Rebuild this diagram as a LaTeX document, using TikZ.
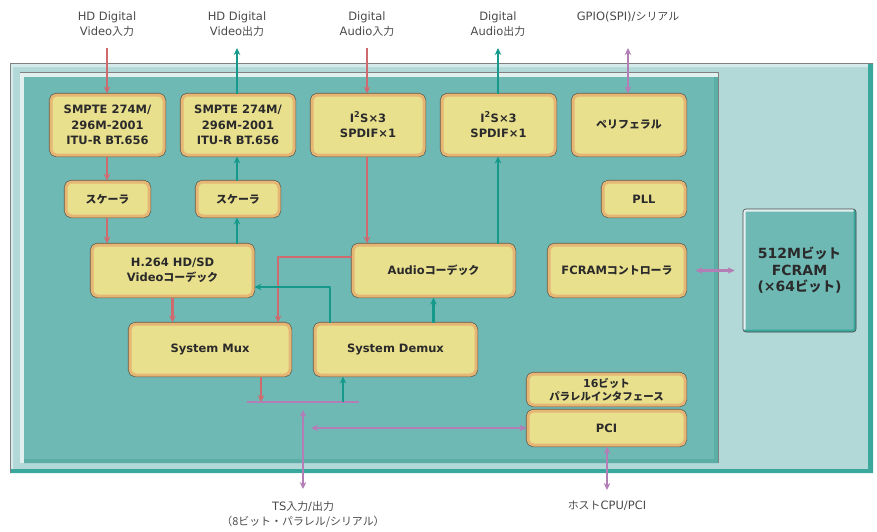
\documentclass[tikz,border=0pt]{standalone}
\usepackage{fontspec}
\setmainfont{DejaVu Sans}
\newfontfamily\jp[Scale=0.95]{Noto Sans CJK JP}
\usetikzlibrary{arrows.meta}
\definecolor{nenngoai}{HTML}{B3D8D8}
\definecolor{nenchip}{HTML}{6FB9B5}
\definecolor{vienchip}{HTML}{5AAEA6}
\definecolor{bienngoai}{HTML}{3AA89C}
\definecolor{vang}{HTML}{E9E08E}
\definecolor{cam}{HTML}{E6B674}
\definecolor{vien}{HTML}{5B5A4E}
\definecolor{dohong}{HTML}{CF6B6E}
\definecolor{xanhluc}{HTML}{14998A}
\definecolor{timnhat}{HTML}{B37DB5}
\definecolor{chu}{HTML}{2A2A2A}
\begin{document}
\begin{tikzpicture}[x=1pt, y=-1pt, line join=round, >={Stealth[length=7pt,width=6.5pt]},
	khoi/.style={rectangle, rounded corners=5.5pt, fill=vang, draw=cam, line width=3pt,
		preaction={draw=vien, line width=4.4pt}, align=center, inner sep=0pt, text=chu,
		font=\fontsize{11.5}{15.5}\selectfont\bfseries},
	nhan/.style={align=center, text=chu!85, font=\fontsize{11.5}{15}\selectfont},
	do/.style={draw=dohong, line width=2.4pt},
	xanh/.style={draw=xanhluc, line width=2.8pt},
	tim/.style={draw=timnhat, line width=2.2pt}]
	\useasboundingbox (0,0) rectangle (877,531);
	% bo mạch
	\fill[nenngoai] (10,63) rectangle (873,473);
	\fill[white!45!nenngoai] (10,63) rectangle (873,67) (10,63) rectangle (13,473);
	\fill[bienngoai] (10,469) rectangle (873,473) (868,63) rectangle (873,473);
	\draw[gray, line width=.8pt] (10,473)--(10,63)--(873,63);
	% chip
	\fill[white!60!nenngoai] (20,72) rectangle (718,463);
	\fill[nenchip] (24,77) rectangle (718,463);
	\fill[vienchip] (24,459) rectangle (718,463) (714,77) rectangle (718,463);
	\draw[gray, line width=.6pt] (20,72)--(718,72)--(718,463);
	% các khối
	\node[khoi, minimum width=113, minimum height=60] (smpteIn) at (107.5,125) {SMPTE 274M/\\296M-2001\\ITU-R BT.656};
	\node[khoi, minimum width=112, minimum height=60] (smpteOut) at (238,125) {SMPTE 274M/\\296M-2001\\ITU-R BT.656};
	\node[khoi, minimum width=112, minimum height=60] (i2sIn) at (368,125) {I\textsuperscript{2}S×3\\SPDIF×1};
	\node[khoi, minimum width=113, minimum height=60] (i2sOut) at (498.5,125) {I\textsuperscript{2}S×3\\SPDIF×1};
	\node[khoi, minimum width=112, minimum height=60] (peri) at (629,125) {\jp ペリフェラル};
	\node[khoi, minimum width=83, minimum height=34] (sclIn) at (107.5,199) {\jp スケーラ};
	\node[khoi, minimum width=82, minimum height=34] (sclOut) at (238,199) {\jp スケーラ};
	\node[khoi, minimum width=82, minimum height=34] (pll) at (644,199) {PLL};
	\node[khoi, minimum width=161, minimum height=51] (h264) at (172.5,270.5) {H.264 HD/SD\\Video{\jp コーデック}};
	\node[khoi, minimum width=161, minimum height=51] (acodec) at (433.5,270.5) {Audio{\jp コーデック}};
	\node[khoi, minimum width=136, minimum height=51] (fcctl) at (617,270.5) {FCRAM{\jp コントローラ}};
	\node[khoi, minimum width=160, minimum height=51] (mux) at (210,349.5) {System Mux};
	\node[khoi, minimum width=161, minimum height=51] (demux) at (395.5,349.5) {System Demux};
	\node[khoi, minimum width=157, minimum height=31, font=\fontsize{11}{13}\selectfont\bfseries] (par16) at (606.5,389.5) {16{\jp ビット}\\{\jp パラレルインタフェース}};
	\node[khoi, minimum width=157, minimum height=34] (pci) at (606.5,428) {PCI};
	% bộ nhớ ngoài
	\node[rectangle, rounded corners=3pt, fill=nenchip, draw=gray!60!black, line width=.6pt,
		minimum width=113, minimum height=123, align=center, text=chu,
		font=\fontsize{14}{16.5}\selectfont\bfseries,
		path picture={
			\draw[white!80!nenchip, line width=5pt] (path picture bounding box.south west)--(path picture bounding box.north west)--(path picture bounding box.north east);
			\draw[bienngoai, line width=5pt] (path picture bounding box.north east)--(path picture bounding box.south east)--(path picture bounding box.south west);
		}] (fcram) at (799.5,270.5) {512M{\jp ビット}\\FCRAM\\(×64{\jp ビット})};
	% nhãn bên ngoài
	\node[nhan] (vinL) at (107,24.5) {HD Digital\\Video{\jp 入力}};
	\node[nhan] (voutL) at (237,24.5) {HD Digital\\Video{\jp 出力}};
	\node[nhan] (ainL) at (367,24.5) {Digital\\Audio{\jp 入力}};
	\node[nhan] (aoutL) at (498,24.5) {Digital\\Audio{\jp 出力}};
	\node[nhan] (gpioL) at (628,17) {GPIO(SPI)/{\jp シリアル}};
	\node[nhan] (tsL) at (303,514.5) {TS{\jp 入力}/{\jp 出力}\\{\jp （8ビット・パラレル/シリアル）}};
	\node[nhan] (hostL) at (607,506) {{\jp ホスト}CPU/PCI};
	\coordinate (vin) at (107,48);
	\coordinate (vout) at (237,48);
	\coordinate (ain) at (367,48);
	\coordinate (aout) at (498,48);
	\coordinate (gpio) at (628,48);
	\coordinate (busL) at (247,402);
	\coordinate (busR) at (359,402);
	\coordinate (tsTop) at (303,410);
	\coordinate (tsBot) at (303,489);
	\coordinate (pciL) at (311,428);
	\coordinate (hostBot) at (607,490);
	% đường tín hiệu
	\draw[do,->] (vin)--(vin|-smpteIn.north);
	\draw[xanh,->] (vout|-smpteOut.north)--(vout);
	\draw[do,->] (ain)--(ain|-i2sIn.north);
	\draw[xanh,->] (aout|-i2sOut.north)--(aout);
	\draw[tim,<->] (gpio)--(gpio|-peri.north);
	\draw[do,->] (vin|-smpteIn.south)--(vin|-sclIn.north);
	\draw[do,->] (vin|-sclIn.south)--(vin|-h264.north);
	\draw[xanh,->] (vout|-h264.north)--(vout|-sclOut.south);
	\draw[xanh,->] (vout|-sclOut.north)--(vout|-smpteOut.south);
	\draw[do,->] (ain|-i2sIn.south)--(ain|-acodec.north);
	\draw[xanh,->] (aout|-acodec.north)--(aout|-i2sOut.south);
	\draw[do,->] ([yshift=13.5pt]acodec.west) -| ([xshift=68pt]mux.north);
	\draw[xanh,->] ([xshift=-65.5pt]demux.north) |- ([yshift=-16.5pt]h264.east);
	\draw[do,->] (h264.south)--(h264.south|-mux.north);
	\draw[xanh,->] (acodec.south|-demux.north)--(acodec.south);
	\draw[tim] (busL)--(busR);
	\draw[do,->] ([xshift=51pt]mux.south)--([xshift=51pt]mux.south|-busL);
	\draw[xanh,->] ([xshift=-52.5pt]demux.south|-busL)--([xshift=-52.5pt]demux.south);
	\draw[tim,<->] (tsTop)--(tsBot);
	\draw[tim,<->] (pciL)--(pci.west);
	\draw[tim,<->] (hostBot)--(hostBot|-pci.south);
	\draw[tim,<->,shorten <=9pt,shorten >=8pt] (fcctl.east)--(fcram.west);
\end{tikzpicture}
\end{document}
